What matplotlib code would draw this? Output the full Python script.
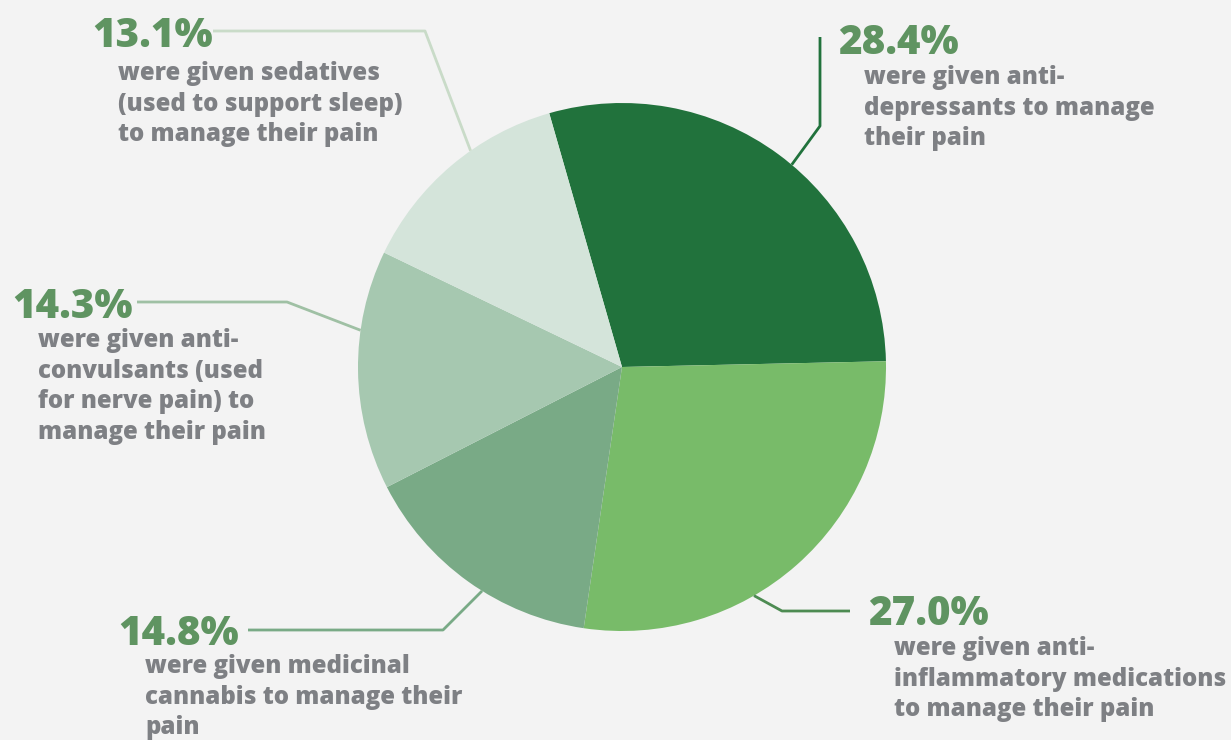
import numpy as np
import matplotlib
matplotlib.use("Agg")
import matplotlib.pyplot as plt

# Share of respondents by medication type
labels = ["28.4%", "27.0%", "14.8%", "14.3%", "13.1%"]
values = [28.4, 27.0, 14.8, 14.3, 13.1]
descriptions = [
    "were given anti-\ndepressants to manage\ntheir pain",
    "were given anti-\ninflammatory medications\nto manage their pain",
    "were given medicinal\ncannabis to manage their\npain",
    "were given anti-\nconvulsants (used\nfor nerve pain) to\nmanage their pain",
    "were given sedatives\n(used to support sleep)\nto manage their pain",
]
slice_colors = ["#21723c", "#78bb69", "#79aa86", "#a6c8b0", "#d4e4da"]
line_colors = ["#21723c", "#4d8b52", "#79aa86", "#9fc0a4", "#c9dbc8"]

BG = "#f3f3f3"
PCT_COLOR = "#5f9461"
TXT_COLOR = "#7e8084"
FONT = ["Open Sans", "DejaVu Sans"]

W, H = 1231, 740
fig = plt.figure(figsize=(W / 100, H / 100), dpi=100, facecolor=BG)
ax = fig.add_axes([0, 0, 1, 1])
ax.set_xlim(0, W)
ax.set_ylim(0, H)
ax.set_aspect("equal")
ax.axis("off")
ax.set_facecolor(BG)


def Y(y):
    return H - y


cx, cy, r = 622, Y(367), 264
wedges, _ = ax.pie(values, colors=slice_colors, startangle=106, counterclock=False,
                   center=(cx, cy), radius=r, wedgeprops=dict(linewidth=0))
ax.set_xlim(0, W)
ax.set_ylim(0, H)

# Leader lines: edge angle on the pie, elbow point, end point (pixel layout)
leaders = [
    (50, (820, 126), (820, 37)),
    (-60, (782, 611), (850, 611)),
    (-122, (443, 630), (248, 630)),
    (172, (287, 302), (137, 302)),
    (125, (425, 31), (213, 31)),
]
for (ang, elbow, end), col in zip(leaders, line_colors):
    sx = cx + r * np.cos(np.radians(ang))
    sy = cy + r * np.sin(np.radians(ang))
    ax.plot([sx, elbow[0], end[0]], [sy, Y(elbow[1]), Y(end[1])],
            color=col, lw=2, solid_capstyle="butt", zorder=1)

# Label blocks: percentage (x, baseline) and description (x, first-line top)
blocks = [
    ((838, 54), (864, 65)),
    ((868, 625), (894, 636)),
    ((118, 645), (145, 654)),
    ((12, 318), (38, 328)),
    ((92, 47), (118, 61)),
]
for lab, desc, (p, d) in zip(labels, descriptions, blocks):
    ax.text(p[0], Y(p[1]), lab, fontsize=29, fontweight="heavy", color=PCT_COLOR,
            family=FONT, ha="left", va="baseline")
    ax.text(d[0], Y(d[1]), desc, fontsize=17.3, fontweight="heavy", color=TXT_COLOR,
            family=FONT, ha="left", va="top", linespacing=1.3)

fig.savefig("out.png", dpi=100, facecolor=BG)
